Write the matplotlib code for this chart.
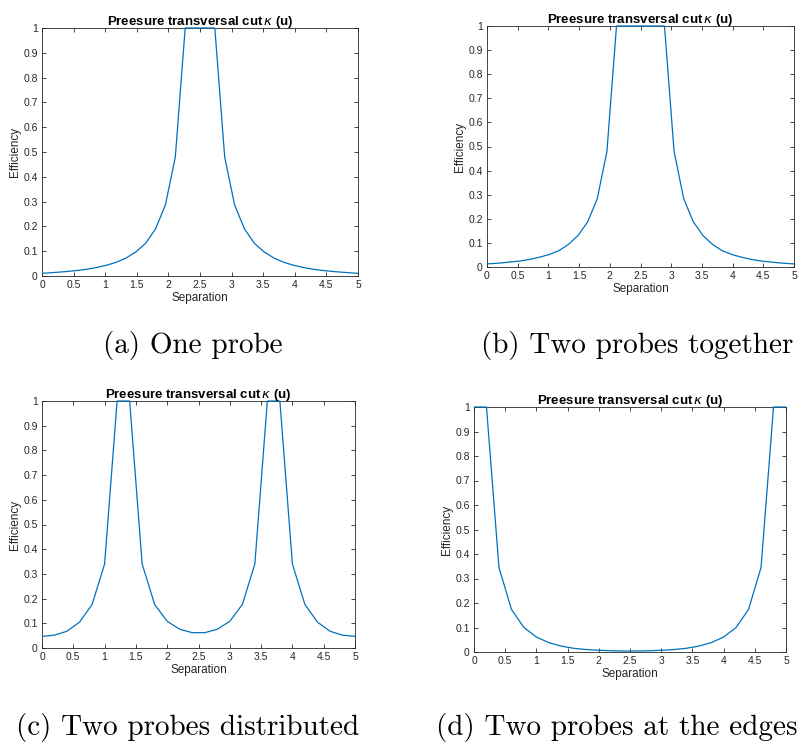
import numpy as np
import matplotlib
matplotlib.use("Agg")
import matplotlib.pyplot as plt
from matplotlib.patches import Rectangle

# Sample positions for the single / paired probe cuts (half-step offset grid)
sep_fine = np.linspace(-5 / 64, 5 + 5 / 64, 34)
# Sample positions for the distributed / edge cuts
sep_coarse = np.linspace(0, 5, 26)

eff_one_probe = [0.010, 0.012, 0.015, 0.018, 0.022, 0.027, 0.034, 0.043, 0.055,
                 0.072, 0.097, 0.132, 0.190, 0.287, 0.480, 1.0, 1.0,
                 1.0, 1.0, 0.480, 0.287, 0.190, 0.132, 0.097, 0.072, 0.055,
                 0.043, 0.034, 0.027, 0.022, 0.018, 0.015, 0.012, 0.010]

eff_two_together = [0.012, 0.014, 0.017, 0.021, 0.025, 0.032, 0.041, 0.052, 0.068,
                    0.094, 0.131, 0.188, 0.284, 0.480, 1.0, 1.0, 1.0,
                    1.0, 1.0, 1.0, 0.480, 0.284, 0.188, 0.131, 0.094, 0.068,
                    0.052, 0.041, 0.032, 0.025, 0.021, 0.017, 0.014, 0.012]

eff_two_distributed = [0.047, 0.052, 0.068, 0.105, 0.176, 0.340, 1.0, 1.0, 0.340,
                       0.176, 0.108, 0.076, 0.062, 0.062, 0.076, 0.108, 0.176,
                       0.340, 1.0, 1.0, 0.340, 0.176, 0.105, 0.068, 0.052, 0.047]

eff_two_edges = [1.0, 1.0, 0.345, 0.174, 0.100, 0.061, 0.038, 0.024, 0.015, 0.010,
                 0.007, 0.005, 0.004, 0.004, 0.005, 0.007, 0.010, 0.015, 0.024,
                 0.038, 0.061, 0.100, 0.174, 0.345, 1.0, 1.0]

x_ticks = [0, 0.5, 1, 1.5, 2, 2.5, 3, 3.5, 4, 4.5, 5]
x_tick_labels = ["0", "0.5", "1", "1.5", "2", "2.5", "3", "3.5", "4", "4.5", "5"]
y_ticks = [0, 0.1, 0.2, 0.3, 0.4, 0.5, 0.6, 0.7, 0.8, 0.9, 1]
y_tick_labels = ["0", "0.1", "0.2", "0.3", "0.4", "0.5", "0.6", "0.7", "0.8", "0.9", "1"]

title_text = "Preesure transversal cut$\\,\\kappa$ (u)"
captions = ["(a) One probe", "(b) Two probes together",
            "(c) Two probes distributed", "(d) Two probes at the edges"]

plt.rcParams["font.family"] = ["Liberation Sans", "DejaVu Sans"]
plt.rcParams["mathtext.fontset"] = "dejavusans"

INK = "#262626"
LINE = "#0072BD"

fig = plt.figure(figsize=(7.98, 7.44), dpi=100)
W, H = 798, 744


def px_axes(x0, y0, x1, y1):
    return fig.add_axes([x0 / W, 1 - y1 / H, (x1 - x0) / W, (y1 - y0) / H])


panels = [
    (px_axes(42, 28, 358, 276), sep_fine, eff_one_probe),
    (px_axes(487, 26, 794, 267), sep_fine, eff_two_together),
    (px_axes(42, 401, 355, 648), sep_coarse, eff_two_distributed),
    (px_axes(474, 407, 786, 652), sep_coarse, eff_two_edges),
]

for ax, xs, ys in panels:
    ax.set_xlim(0, 5)
    ax.set_ylim(0, 1)
    ax.set_xticks(x_ticks)
    ax.set_xticklabels(x_tick_labels)
    ax.set_yticks(y_ticks)
    ax.set_yticklabels(y_tick_labels)
    ax.tick_params(direction="in", length=3, width=0.6, colors=INK,
                   labelsize=7.5, top=True, right=True, pad=3)
    for sp in ax.spines.values():
        sp.set_color(INK)
        sp.set_linewidth(0.6)
    # curve drawn above the frame; clipped horizontally to the axes but allowed
    # to sit fully on the top edge where it saturates at 1
    line, = ax.plot(xs, ys, color=LINE, lw=0.9, solid_joinstyle="miter", zorder=3)
    line.set_clip_path(Rectangle((0, -0.02), 1, 1.04, transform=ax.transAxes))
    ax.set_xlabel("Separation", fontsize=8.5, color=INK, labelpad=1.5)
    ax.set_ylabel("Efficiency", fontsize=8.5, color=INK, labelpad=2)
    ax.set_title(title_text, fontsize=9.5, fontweight="bold", color="black", pad=2)

cap_kw = dict(fontsize=21, family="cmr10", ha="center", va="center", color="black")
fig.text(193 / W, 1 - 346 / H, captions[0], **cap_kw)
fig.text(637 / W, 1 - 346 / H, captions[1], **cap_kw)
fig.text(188 / W, 1 - 728 / H, captions[2], **cap_kw)
fig.text(617 / W, 1 - 728 / H, captions[3], **cap_kw)

fig.savefig("out.png", dpi=100, facecolor="white")
